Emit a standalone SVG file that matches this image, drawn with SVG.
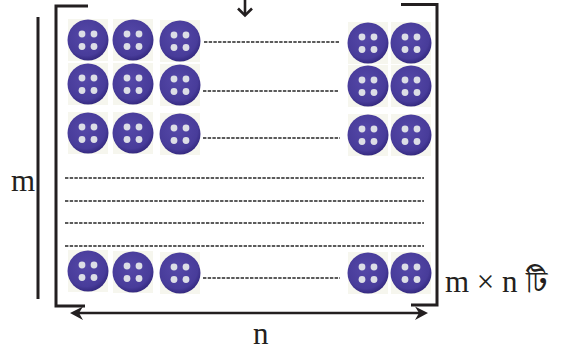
<svg xmlns="http://www.w3.org/2000/svg" width="565" height="351" viewBox="0 0 565 351">
  <style>
    .bar { stroke: #231f20; stroke-width: 3; fill: none; stroke-linecap: butt; }
    .arr { stroke: #231f20; stroke-width: 2.6; fill: none; }
    .head { fill: #231f20; stroke: none; }
    .dash { stroke: #262626; stroke-width: 1.3; stroke-dasharray: 3.4 1.3; fill: none; }
    .lbl { font-family: "Liberation Serif", "Times New Roman", serif; font-size: 31px; fill: #231f20; }
    .bn { font-family: "Noto Serif Bengali", "Noto Sans Bengali", "Lohit Bengali", "Liberation Serif", serif; font-size: 30px; fill: #231f20; }
  </style>
  <defs>
    <radialGradient id="btnFill" cx="0.45" cy="0.4" r="0.6">
      <stop offset="0" stop-color="#5548a8"/>
      <stop offset="0.8" stop-color="#483c9a"/>
      <stop offset="1" stop-color="#352a80"/>
    </radialGradient>
    <symbol id="button" viewBox="-21 -22 42 44" width="42" height="44" overflow="visible">
      <rect x="-20" y="-21" width="40" height="42" fill="#f6f6ee"/>
      <circle r="20.5" fill="url(#btnFill)"/>
      <circle cx="-6" cy="-6" r="3.4" fill="#dcdee6"/>
      <circle cx="6" cy="-6" r="3.4" fill="#dcdee6"/>
      <circle cx="-6" cy="6.5" r="3.4" fill="#dcdee6"/>
      <circle cx="6" cy="6.5" r="3.4" fill="#dcdee6"/>
    </symbol>
  </defs>

  <!-- rows of buttons -->
  <g id="row1">
    <use href="#button" x="67" y="18"/>
    <use href="#button" x="112" y="18"/>
    <use href="#button" x="159" y="19"/>
    <use href="#button" x="347" y="21"/>
    <use href="#button" x="390" y="21"/>
  </g>
  <g id="row2">
    <use href="#button" x="67" y="62"/>
    <use href="#button" x="112" y="62"/>
    <use href="#button" x="159" y="63"/>
    <use href="#button" x="347" y="64"/>
    <use href="#button" x="390" y="64"/>
  </g>
  <g id="row3">
    <use href="#button" x="67" y="111"/>
    <use href="#button" x="112" y="111"/>
    <use href="#button" x="159" y="112"/>
    <use href="#button" x="347" y="113"/>
    <use href="#button" x="390" y="113"/>
  </g>
  <g id="rowLast">
    <use href="#button" x="67" y="249"/>
    <use href="#button" x="112" y="250"/>
    <use href="#button" x="159" y="251"/>
    <use href="#button" x="347" y="251"/>
    <use href="#button" x="390" y="251"/>
  </g>

  <!-- brackets, measures and dotted fillers -->
  <g id="connectors">
    <line class="dash" x1="204" y1="42" x2="340" y2="42"/>
    <line class="dash" x1="203" y1="91" x2="339" y2="91"/>
    <line class="dash" x1="203" y1="138" x2="340" y2="138"/>
    <line class="dash" x1="65" y1="178" x2="424" y2="178"/>
    <line class="dash" x1="65" y1="201" x2="424" y2="201"/>
    <line class="dash" x1="65" y1="223" x2="424" y2="223"/>
    <line class="dash" x1="65" y1="246" x2="424" y2="246"/>
    <line class="dash" x1="203" y1="278" x2="340" y2="278"/>

    <line class="bar" x1="38" y1="17" x2="38" y2="299"/>
    <path class="bar" d="M88,6 H56 V306 H85"/>
    <path class="bar" d="M401,4.5 H437 V305 H411"/>

    <!-- downward pointer at the top -->
    <line class="arr" x1="245" y1="0" x2="245" y2="15"/>
    <path class="arr" d="M238,8.5 L245,15.5 L252,8.5" stroke-linejoin="miter"/>

    <!-- width measure -->
    <line class="arr" x1="74" y1="313" x2="424" y2="313"/>
    <path class="head" d="M70,313 L83,306.5 L79,313 L83,320 Z"/>
    <path class="head" d="M428,313 L415,306.5 L419,313 L415,320 Z"/>
  </g>

  <g id="labels">
    <text class="lbl" x="11" y="191">m</text>
    <text class="lbl" x="253" y="344">n</text>
    <text class="lbl" x="445" y="292">m × n</text>
    <text class="bn" x="526" y="292">টি</text>
  </g>
</svg>
